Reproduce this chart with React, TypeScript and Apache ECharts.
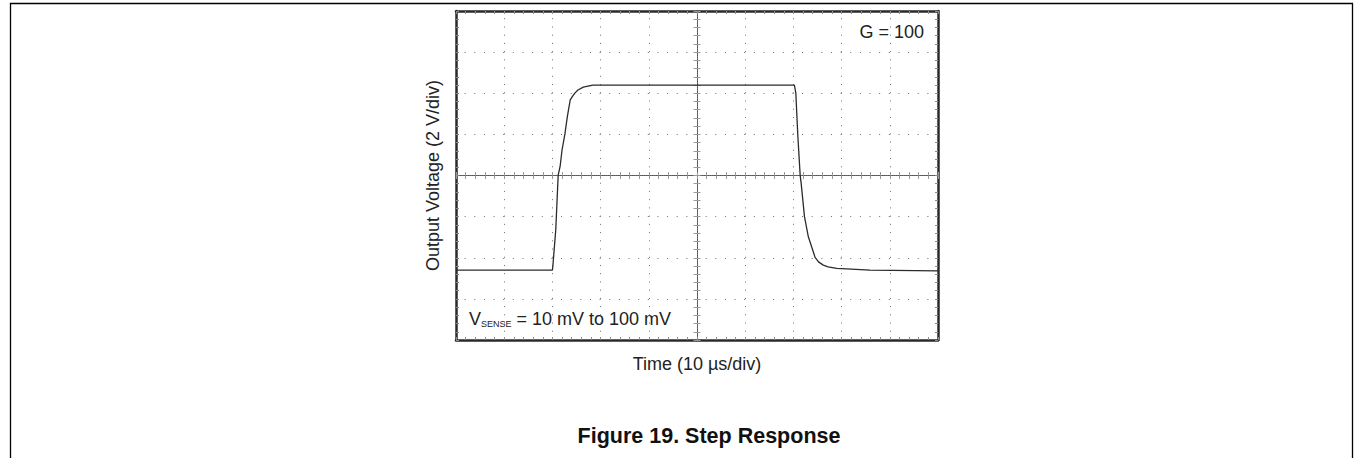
import React, { useEffect, useRef } from "react";
import * as echarts from "echarts";

// Time in microseconds (10 µs per division), output in volts (2 V per division)
const timeUs = [
  0, 20.0, 20.1, 20.3, 20.7, 21.2, 21.6, 22.0, 22.6, 23.1, 23.7, 24.2, 24.7, 25.3, 26.4, 28.4,
  70.2, 70.5, 70.9, 71.4, 71.6, 72.3, 73.1, 74.5, 75.2, 76.2, 77.2, 79.0, 85.9, 100,
];
const outputV = [
  3.4, 3.4, 3.6, 4.2, 5.36, 8.02, 8.44, 9.24, 10.02, 10.86, 11.68, 11.86, 12.02, 12.16, 12.3, 12.4,
  12.4, 12.02, 10.02, 8.02, 7.64, 6.0, 5.02, 4.02, 3.8, 3.64, 3.56, 3.48, 3.4, 3.36,
];

const xMin = 0;
const xMax = 100;
const xStep = 10;
const yMin = 0;
const yMax = 16;
const yStep = 2;

const xAxisName = "Time (10 µs/div)";
const yAxisName = "Output Voltage (2 V/div)";
const gainLabel = "G = 100";
const senseMain = "V";
const senseSub = "SENSE";
const senseRest = " = 10 mV to 100 mV";
const figureTitle = "Figure 19. Step Response";

const FONT = "'Liberation Sans', Arial, Helvetica, sans-serif";
const GRID = { left: 456, top: 11, width: 482, height: 329 };

export default function App() {
  const ref = useRef<HTMLDivElement>(null);

  useEffect(() => {
    document.body.style.margin = "0";
    const chart = echarts.init(ref.current as HTMLDivElement, null, { renderer: "svg" });

    const frameLine = { show: true, onZero: false, lineStyle: { color: "#2a2a2a", width: 2.5 } };
    const frameTick = { show: true, inside: true, length: 3, lineStyle: { color: "#8c8c8c", width: 1 } };
    const frameMinor = { show: true, splitNumber: 5, length: 3, lineStyle: { color: "#8c8c8c", width: 1 } };
    const centerLine = { show: true, onZero: false, lineStyle: { color: "#555", width: 1, type: "dotted" as const } };
    const centerTick = (inside: boolean) => ({ show: true, inside, length: 3.5, lineStyle: { color: "#9a9a9a", width: 1 } });
    const centerMinor = { show: true, splitNumber: 5, length: 3.5, lineStyle: { color: "#9a9a9a", width: 1 } };
    const nameStyle = { fontSize: 18, color: "#222", fontFamily: FONT };

    const xBase = { type: "value" as const, min: xMin, max: xMax, interval: xStep, axisLabel: { show: false }, splitLine: { show: false } };
    const yBase = { type: "value" as const, min: yMin, max: yMax, interval: yStep, axisLabel: { show: false }, splitLine: { show: false } };

    const minorY = GRID.height / ((yMax - yMin) / yStep) / 5;
    const minorX = GRID.width / ((xMax - xMin) / xStep) / 5;

    chart.setOption({
      animation: false,
      grid: { ...GRID, containLabel: false },
      xAxis: [
        {
          ...xBase,
          position: "bottom",
          axisLine: frameLine,
          axisTick: frameTick,
          minorTick: frameMinor,
          splitLine: { show: true, lineStyle: { color: "#6e6e6e", width: 1, type: [1, minorY - 1], dashOffset: 0.5 } },
          name: xAxisName,
          nameLocation: "middle",
          nameGap: 15,
          nameTextStyle: nameStyle,
        },
        { ...xBase, position: "top", axisLine: frameLine, axisTick: frameTick, minorTick: frameMinor },
        { ...xBase, position: "bottom", offset: -GRID.height / 2, axisLine: centerLine, axisTick: centerTick(true), minorTick: centerMinor },
        { ...xBase, position: "bottom", offset: -GRID.height / 2, axisLine: centerLine, axisTick: centerTick(false), minorTick: centerMinor },
      ],
      yAxis: [
        {
          ...yBase,
          position: "left",
          axisLine: frameLine,
          axisTick: frameTick,
          minorTick: frameMinor,
          splitLine: { show: true, lineStyle: { color: "#6e6e6e", width: 1, type: [1, minorX - 1], dashOffset: 0.5 } },
          name: yAxisName,
          nameLocation: "middle",
          nameGap: 14,
          nameTextStyle: nameStyle,
        },
        { ...yBase, position: "right", axisLine: frameLine, axisTick: frameTick, minorTick: frameMinor },
        { ...yBase, position: "left", offset: -GRID.width / 2, axisLine: centerLine, axisTick: centerTick(true), minorTick: centerMinor },
        { ...yBase, position: "left", offset: -GRID.width / 2, axisLine: centerLine, axisTick: centerTick(false), minorTick: centerMinor },
      ],
      series: [
        {
          type: "line",
          xAxisIndex: 0,
          yAxisIndex: 0,
          data: timeUs.map((t, i) => [t, outputV[i]]),
          showSymbol: false,
          symbol: "none",
          lineStyle: { color: "#2b2b2b", width: 1.3 },
          z: 5,
        },
      ],
      graphic: [
        {
          type: "rect",
          silent: true,
          shape: { x: 10.5, y: 3.5, width: 1342, height: 520 },
          style: { fill: "none", stroke: "#000", lineWidth: 1.3 },
        },
        {
          type: "text",
          silent: true,
          x: 924,
          y: 32,
          style: { text: gainLabel, fill: "#222", font: `18px ${FONT}`, align: "right", verticalAlign: "middle" },
        },
        {
          type: "text",
          silent: true,
          x: 469,
          y: 328,
          style: {
            text: `{v|${senseMain}}{s|${senseSub}}{v|${senseRest}}`,
            fill: "#222",
            align: "left",
            verticalAlign: "bottom",
            rich: {
              v: { fontSize: 18, fontFamily: FONT, fill: "#222", lineHeight: 18, verticalAlign: "bottom" },
              s: { fontSize: 9, fontFamily: FONT, fill: "#222", lineHeight: 9, verticalAlign: "bottom" },
            },
          },
        },
        {
          type: "text",
          silent: true,
          x: 709,
          y: 436,
          style: { text: figureTitle, fill: "#111", font: `bold 21.5px ${FONT}`, align: "center", verticalAlign: "middle" },
        },
      ],
    });

    return () => chart.dispose();
  }, []);

  return <div ref={ref} style={{ width: 1355, height: 458 }} />;
}
